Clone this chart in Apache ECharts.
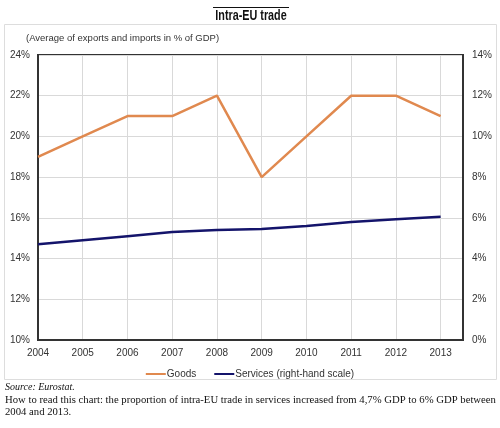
<!DOCTYPE html>
<html><head><meta charset="utf-8">
<script src="https://cdn.jsdelivr.net/npm/echarts@6/dist/echarts.min.js"></script>
<style>html,body{margin:0;padding:0;background:#fff}#c{width:500px;height:428px}</style>
</head><body><div id="c"></div>
<script>
const years = [2004, 2005, 2006, 2007, 2008, 2009, 2010, 2011, 2012, 2013];
const goods = [19, 20, 21, 21, 22, 18, 20, 22, 22, 21];
const services = [4.7, 4.9, 5.1, 5.3, 5.4, 5.45, 5.6, 5.8, 5.93, 6.05];
const leftTicks = { min: 10, max: 24, step: 2 };
const rightTicks = { min: 0, max: 14, step: 2 };

const chart = echarts.init(document.getElementById('c'));
const lab = { fontFamily: 'Liberation Sans, Arial, sans-serif', fontSize: 10, color: '#333' };
chart.setOption({
  animation: false,
  graphic: [
    { type: 'rect', shape: { x: 4.5, y: 24.5, width: 492, height: 355 }, style: { fill: 'none', stroke: '#ddd', lineWidth: 1 } },
    { type: 'line', shape: { x1: 213, y1: 7.5, x2: 289, y2: 7.5 }, style: { stroke: '#111', lineWidth: 1 } },
    { type: 'text', x: 251, y: 16, scaleX: 0.72, style: { text: 'Intra-EU trade', fill: '#111', font: 'bold 15px Liberation Sans, Arial, sans-serif', align: 'center', verticalAlign: 'middle' } },
    { type: 'text', left: 26, top: 33, style: { text: '(Average of exports and imports in % of GDP)', fill: '#333', font: '9.5px Liberation Sans, Arial, sans-serif' } },
    { type: 'text', left: 5, top: 382, style: { text: 'Source: Eurostat.', fill: '#111', font: 'italic 10px Liberation Serif, Times New Roman, serif' } },
    { type: 'text', left: 5, top: 394, style: { text: 'How to read this chart: the proportion of intra-EU trade in services increased from 4,7% GDP to 6% GDP between\n2004 and 2013.', fill: '#111', font: '10.7px Liberation Serif, Times New Roman, serif', lineHeight: 12 } }
  ],
  legend: {
    bottom: 44, left: 'center', itemWidth: 20, itemHeight: 2, itemGap: 18,
    icon: 'rect',
    textStyle: { fontFamily: 'Liberation Sans, Arial, sans-serif', fontSize: 10, color: '#333', padding: [0, 0, 0, -4] },
    data: ['Goods', 'Services (right-hand scale)']
  },
  grid: { left: 38, right: 37, top: 55, bottom: 88, show: true, borderColor: '#333', borderWidth: 2 },
  xAxis: {
    type: 'value', min: years[0], max: years[years.length - 1] + 0.5, interval: 1,
    axisLine: { show: true, lineStyle: { color: '#333', width: 2 } },
    axisTick: { show: false },
    splitLine: { show: true, lineStyle: { color: '#d9d9d9', width: 1 } },
    axisLabel: Object.assign({ margin: 8, formatter: v => Number.isInteger(v) ? String(v) : '' }, lab)
  },
  yAxis: [
    {
      type: 'value', min: leftTicks.min, max: leftTicks.max, interval: leftTicks.step,
      axisLine: { show: true, lineStyle: { color: '#333', width: 2 } },
      axisTick: { show: false },
      splitLine: { show: true, lineStyle: { color: '#d9d9d9', width: 1 } },
      axisLabel: Object.assign({ margin: 8, formatter: '{value}%' }, lab)
    },
    {
      type: 'value', min: rightTicks.min, max: rightTicks.max, interval: rightTicks.step,
      position: 'right',
      axisLine: { show: true, lineStyle: { color: '#333', width: 2 } },
      axisTick: { show: false },
      splitLine: { show: false },
      axisLabel: Object.assign({ margin: 9, formatter: '{value}%' }, lab)
    }
  ],
  series: [
    { name: 'Goods', type: 'line', yAxisIndex: 0, data: years.map((y, i) => [y, goods[i]]), showSymbol: false, symbol: 'none', lineStyle: { color: '#E0894F', width: 2.5 }, itemStyle: { color: '#E0894F' } },
    { name: 'Services (right-hand scale)', type: 'line', yAxisIndex: 1, data: years.map((y, i) => [y, services[i]]), showSymbol: false, symbol: 'none', lineStyle: { color: '#14146B', width: 2.5 }, itemStyle: { color: '#14146B' } }
  ]
});
</script></body></html>
